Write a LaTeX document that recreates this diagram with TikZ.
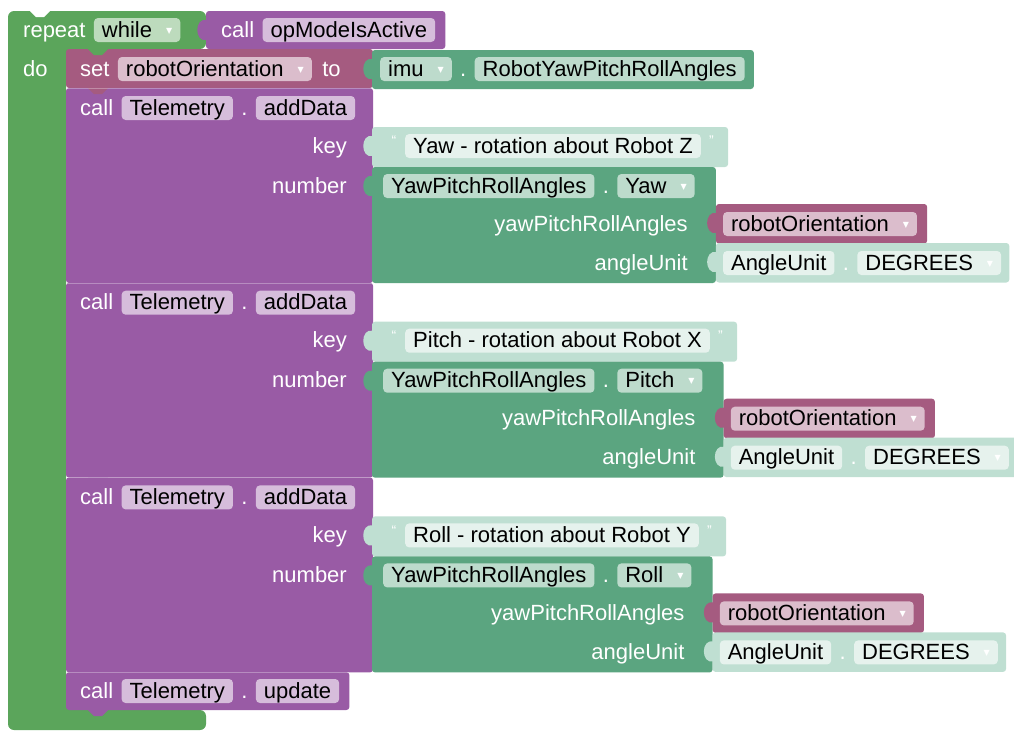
\documentclass[tikz,border=0pt]{standalone}
\usepackage{fontspec}
\setmainfont{Liberation Sans}
\newfontfamily\symf{DejaVu Sans}
\usetikzlibrary{positioning,calc,backgrounds}
\definecolor{loopg}{HTML}{5BA55B}
\definecolor{procp}{HTML}{995BA5}
\definecolor{varr}{HTML}{A55B80}
\definecolor{objt}{HTML}{5BA580}
\definecolor{mint}{HTML}{BFDFD2}
\definecolor{fgrn}{HTML}{BDDBBD}
\definecolor{fpur}{HTML}{D6BDDB}
\definecolor{fros}{HTML}{DBBDCC}
\definecolor{ftea}{HTML}{BDDBCC}
\definecolor{fmin}{HTML}{E6F2ED}
\newcommand{\dd}{\hspace{14pt}\raisebox{4pt}{\symf\fontsize{8}{8}\selectfont\textcolor{white}{▼}}\hspace{4pt}}

\begin{document}
\begin{tikzpicture}[x=1pt,y=-1pt,
  lbl/.style={inner sep=0pt, text=white, text height=17pt, text depth=3pt, font=\fontsize{22}{25}\selectfont},
  fld/.style={fill=#1, rounded corners=4pt, inner xsep=8pt, inner ysep=2pt, text height=17pt, text depth=3pt, font=\fontsize{22}{25}\selectfont},
  qt/.style={inner sep=0pt, text=white, font=\fontsize{14}{14}\selectfont},
  blk/.style={fill=#1, rounded corners=3pt},
  vtab/.pic={\fill (1,9) .. controls (-12,6) and (-12,32) .. (1,29) -- cycle;},
  vnotch/.pic={\fill (22,0) -- (28,6) -- (36,6) -- (42,0) -- cycle;}]
\useasboundingbox (0,0) rectangle (1014,731);
\node[lbl, anchor=west] (rep) at (23,30) {repeat};
\node[fld=fgrn, right=8pt of rep] (whl) {while\dd};
\node[lbl, anchor=west] (cop) at (221,30) {call};
\node[fld=fpur, right=8pt of cop] (opm) {opModeIsActive};
\node[lbl, anchor=west] (dol) at (23,69) {do};
\node[lbl, anchor=west] (set) at (80,69) {set};
\node[fld=fros, right=8pt of set] (rov) {robotOrientation\dd};
\node[lbl, right=10pt of rov] (tow) {to};
\node[fld=ftea, anchor=west] (imu) at (380,69) {imu\dd};
\node[lbl, right=8pt of imu] (dim) {.};
\node[fld=ftea, right=8pt of dim] (rpa) {RobotYawPitchRollAngles};
\begin{scope}[on background layer]
  \fill[loopg, rounded corners=6pt] (8,11) -- (206,11) -- (206,49) -- (66,49) -- (66,710) -- (206,710) -- (206,730) -- (8,730) -- cycle;
  \pic[fill=white] at (8,11) {vnotch};
  \fill[blk=procp] (206,11) rectangle ($(opm.east)+(10,19)$);
  \pic[fill=procp] at (206,11) {vtab};
  \fill[blk=varr] (66,49) rectangle (373,88);
  \pic[fill=loopg] at (66,49) {vnotch};
  \fill[blk=objt] (372,50) rectangle ($(rpa.east)+(9,20)$);
  \pic[fill=objt] at (372,50) {vtab};
\end{scope}
\foreach \i/\ax/\ltr/\up in {0/Yaw/Z/varr,1/Pitch/X/procp,2/Roll/Y/procp}{
  \pgfmathsetmacro\T{88+194.7*\i}
  \node[lbl, anchor=west] (c\i) at (80,\T+20) {call};
  \node[fld=fpur, right=8pt of c\i] (tl\i) {Telemetry};
  \node[lbl, right=8pt of tl\i] (d\i) {.};
  \node[fld=fpur, right=8pt of d\i] (ad\i) {addData};
  \node[lbl, anchor=east] (k\i) at (347,\T+58) {key};
  \node[qt] (q\i) at (394,\T+53) {“};
  \node[fld=fmin, anchor=west] (s\i) at (405,\T+58) {\ax{} - rotation about Robot \ltr};
  \node[qt, right=8pt of s\i, yshift=5pt] (qq\i) {”};
  \node[lbl, anchor=east] (n\i) at (347,\T+98) {number};
  \node[fld=ftea, anchor=west] (yp\i) at (383,\T+98) {YawPitchRollAngles};
  \node[lbl, right=8pt of yp\i] (p\i) {.};
  \node[fld=ftea, right=8pt of p\i] (ax\i) {\ax\dd};
  \coordinate (e\i) at ($(ax\i.east)+(21,0)$);
  \node[lbl, anchor=east] (ya\i) at ($(e\i)+(-28,38)$) {yawPitchRollAngles};
  \node[lbl, anchor=east] (au\i) at ($(e\i)+(-28,77)$) {angleUnit};
  \node[fld=fros, anchor=west] (ro\i) at ($(e\i)+(7,38)$) {robotOrientation\dd};
  \node[fld=fmin, anchor=west] (un\i) at ($(e\i)+(7,77)$) {AngleUnit};
  \node[lbl, right=8pt of un\i] (u\i) {.};
  \node[fld=fmin, right=8pt of u\i] (dg\i) {DEGREES\dd};
  \begin{scope}[on background layer]
    \fill[blk=procp] (66,\T) rectangle (373,\T+195);
    \pic[fill=\up] at (66,\T) {vnotch};
    \draw[white, opacity=.3] (66,\T) -- (373,\T);
    \fill[blk=mint] (372,\T+39) rectangle ($(qq\i.east |- s\i.center)+(14,21)$);
    \pic[fill=mint] at (372,\T+39) {vtab};
    \fill[blk=objt] (372,\T+79) rectangle ($(e\i)+(0,97)$);
    \pic[fill=objt] at (372,\T+79) {vtab};
    \fill[blk=varr] ($(e\i)+(0,18)$) rectangle ($(ro\i.east)+(10,19.5)$);
    \pic[fill=varr] at ($(e\i)+(0,18)$) {vtab};
    \fill[blk=mint] ($(e\i)+(0,57)$) rectangle ($(dg\i.east)+(8,19.5)$);
    \pic[fill=mint] at ($(e\i)+(0,57)$) {vtab};
  \end{scope}
}
\node[lbl, anchor=west] (cu) at (80,691) {call};
\node[fld=fpur, right=8pt of cu] (tlu) {Telemetry};
\node[lbl, right=8pt of tlu] (du) {.};
\node[fld=fpur, right=8pt of du] (upd) {update};
\begin{scope}[on background layer]
  \fill[blk=procp] (66,672) rectangle ($(upd.east)+(10,19)$);
  \pic[fill=procp] at (66,672) {vnotch};
  \draw[white, opacity=.3] (66,672) -- ($(upd.east)+(10,-19)$);
  \pic[fill=procp] at (66,710) {vnotch};
\end{scope}
\end{tikzpicture}
\end{document}
